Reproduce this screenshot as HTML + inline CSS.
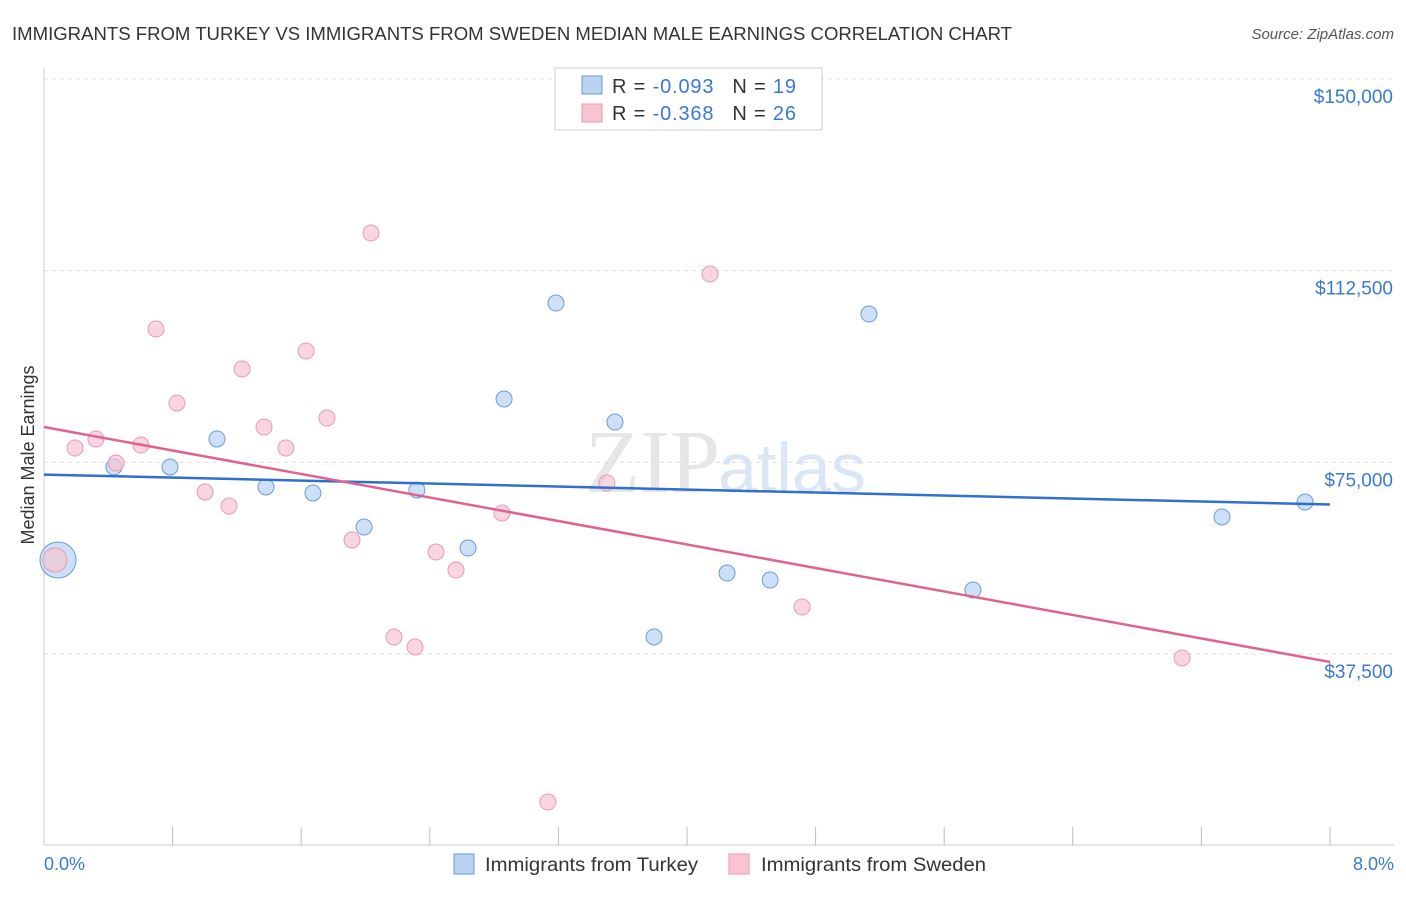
<!DOCTYPE html>
<html><head><meta charset="utf-8"><style>
body{margin:0;background:#fff;font-family:"Liberation Sans",sans-serif;}
</style></head><body>
<svg width="1406" height="892" xmlns="http://www.w3.org/2000/svg" font-family="Liberation Sans, sans-serif">
<text x="12" y="40" font-size="18" fill="#333" textLength="1000" lengthAdjust="spacingAndGlyphs">IMMIGRANTS FROM TURKEY VS IMMIGRANTS FROM SWEDEN MEDIAN MALE EARNINGS CORRELATION CHART</text>
<text x="1394" y="39" font-size="15" fill="#555" font-style="italic" text-anchor="end">Source: ZipAtlas.com</text>
<text x="720" y="492" font-size="90" fill="#e6e6e6" font-family="Liberation Serif, serif" text-anchor="end">ZIP</text>
<text x="718" y="492" font-size="70" fill="#dbe6f5">atlas</text>
<g id="grid"></g>
<line x1="44" y1="68" x2="44" y2="845" stroke="#ccc"/>
<line x1="44" y1="845" x2="1394" y2="845" stroke="#ccc"/>
<g id="xt"></g>
<text x="44" y="870" font-size="18" fill="#3a78d4">0.0%</text>
<text x="1394" y="870" font-size="18" fill="#3a78d4" text-anchor="end">8.0%</text>
<text transform="translate(34,455) rotate(-90)" font-size="18" fill="#333" text-anchor="middle">Median Male Earnings</text>
<g id="pts"></g>
<g id="lines"></g>
<g>
<rect x="555" y="68" width="267" height="62" fill="#fff" stroke="#ccc"/>
<rect x="582" y="76" width="20" height="18" fill="#b9d3f3" stroke="#6b9bd8"/>
<rect x="582" y="104" width="20" height="18" fill="#f7c4d2" stroke="#e89ab3"/>
<text x="612" y="93" font-size="20" fill="#333" textLength="184" lengthAdjust="spacing">R = <tspan fill="#3a78d4">-0.093</tspan><tspan dx="18">N = </tspan><tspan fill="#3a78d4">19</tspan></text>
<text x="612" y="120" font-size="20" fill="#333" textLength="184" lengthAdjust="spacing">R = <tspan fill="#3a78d4">-0.368</tspan><tspan dx="18">N = </tspan><tspan fill="#3a78d4">26</tspan></text>
</g>
<g>
<rect x="454" y="854" width="20" height="20" fill="#b9d3f3" stroke="#6b9bd8"/>
<text x="485" y="871" font-size="19" fill="#333" textLength="213" lengthAdjust="spacingAndGlyphs">Immigrants from Turkey</text>
<rect x="729" y="854" width="20" height="20" fill="#f7c4d2" stroke="#e89ab3"/>
<text x="761" y="871" font-size="19" fill="#333" textLength="225" lengthAdjust="spacingAndGlyphs">Immigrants from Sweden</text>
</g>
</svg>
<script>
const yTicks=[37500,75000,112500,150000];
const yTickLabels=["$37,500","$75,000","$112,500","$150,000"];
const turkeyX=[0.087,0.435,0.784,1.076,1.381,1.673,1.991,2.320,2.638,2.862,3.185,3.552,3.795,4.249,4.517,5.132,5.779,7.328,7.845];
const turkeyY=[55890,74080,74080,79560,70170,69000,62340,69580,58230,87380,106160,82880,40830,53340,51970,104000,50020,64300,67230];
const swedenX=[0.068,0.193,0.323,0.448,0.603,0.697,0.827,1.002,1.151,1.232,1.369,1.505,1.630,1.760,1.916,2.034,2.177,2.308,2.439,2.563,2.849,3.135,3.502,4.143,4.716,7.080];
const swedenY=[55890,77790,79560,74860,78380,101070,86600,69190,66450,93250,81900,77790,96770,83660,59800,119850,40830,38870,57450,53930,65080,8550,70950,111830,46690,36720];
const turkeyTrend=[72600,66740];
const swedenTrend=[81900,35940];
const trendX=[0,8];
const NS="http://www.w3.org/2000/svg";
function X(v){return 44+v/8*1286;}
function Y(v){return 654-(v-37500)*191.7/37500;}
function mk(t,a,p){const e=document.createElementNS(NS,t);for(const k in a)e.setAttribute(k,a[k]);p.appendChild(e);return e;}
const grid=document.getElementById('grid');
yTicks.forEach((v,i)=>{
 const l=mk('line',{x1:44,x2:1394,y1:Y(v),y2:Y(v),stroke:'#ddd','stroke-dasharray':'4,4'},grid);
 
 
 const t=mk('text',{x:1393,y:Y(v)+24,'font-size':19,fill:'#3a78d4','text-anchor':'end'},grid);
 t.textContent=yTickLabels[i];
 
 
});
const xt=document.getElementById('xt');
for(let i=1;i<=10;i++){
 const l=mk('line',{x1:X(i*0.8),x2:X(i*0.8),y1:827,y2:845,stroke:'#bbb'},xt);
 
 
}
const pts=document.getElementById('pts');
turkeyX.forEach((x,i)=>{
 const c=mk('circle',{cx:X(x),cy:Y(turkeyY[i]),r:i==0?18:8,fill:'#b9d3f3','fill-opacity':0.7,stroke:'#6b9bd8','stroke-width':1},pts);
 
 
});
swedenX.forEach((x,i)=>{
 const c=mk('circle',{cx:X(x),cy:Y(swedenY[i]),r:i==0?12:8,fill:'#f7c4d2','fill-opacity':0.7,stroke:'#e89ab3','stroke-width':1},pts);
 
 
});
const lines=document.getElementById('lines');
const lt=mk('line',{x1:X(trendX[0]),x2:X(trendX[1]),y1:Y(turkeyTrend[0]),y2:Y(turkeyTrend[1]),stroke:'#2f6fd0','stroke-width':2.5},lines);


const ls=mk('line',{x1:X(trendX[0]),x2:X(trendX[1]),y1:Y(swedenTrend[0]),y2:Y(swedenTrend[1]),stroke:'#e0638f','stroke-width':2.5},lines);


</script>
</body></html>
